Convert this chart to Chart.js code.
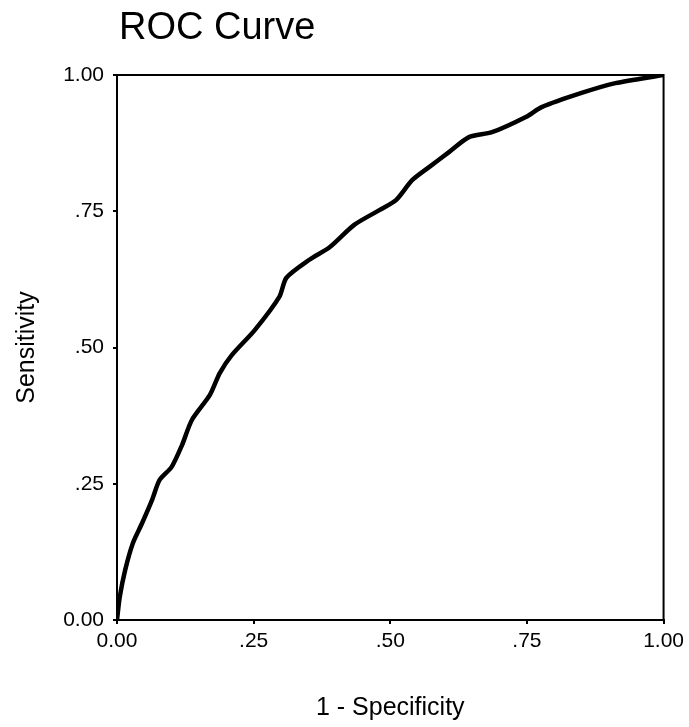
<!DOCTYPE html>
<html>
<head>
<meta charset="utf-8">
<script src="https://cdn.jsdelivr.net/npm/chart.js@4.4.0/dist/chart.umd.min.js"></script>
<style>
  html, body { margin: 0; padding: 0; background: #fff; }
  #wrap { width: 689px; height: 727px; }
</style>
</head>
<body>
<div id="wrap"><canvas id="roc"></canvas></div>
<script>
// ROC points: 1 - specificity and sensitivity
const fpr = [0, 0.005, 0.015, 0.029, 0.046, 0.064, 0.078, 0.100, 0.119, 0.137, 0.170, 0.188, 0.210, 0.252,
  0.297, 0.310, 0.352, 0.389, 0.434, 0.480, 0.511, 0.540, 0.571, 0.608, 0.644, 0.686, 0.748, 0.777,
  0.850, 0.912, 1.0];
const tpr = [0, 0.042, 0.092, 0.141, 0.178, 0.220, 0.257, 0.281, 0.321, 0.367, 0.413, 0.453, 0.486, 0.532,
  0.593, 0.628, 0.661, 0.684, 0.725, 0.752, 0.771, 0.807, 0.831, 0.859, 0.886, 0.895, 0.923, 0.941,
  0.967, 0.985, 1.0];

const tickValues = [0, 0.25, 0.5, 0.75, 1];
const tickLabels = ['0.00', '.25', '.50', '.75', '1.00'];

const font = "'Liberation Sans', Arial, sans-serif";

// box round the plot + the title in the top left
const frame = {
  id: 'frame',
  afterDraw(chart) {
    const { ctx, chartArea: a } = chart;
    ctx.save();
    ctx.strokeStyle = '#000';
    ctx.lineWidth = 2;
    ctx.strokeRect(a.left, a.top, a.right - a.left, a.bottom - a.top);
    ctx.fillStyle = '#000';
    ctx.font = '38px ' + font;
    ctx.textBaseline = 'alphabetic';
    ctx.fillText('ROC Curve', 119, 39);
    ctx.restore();
  }
};

const tickOpts = {
  color: '#000',
  font: { family: font, size: 21 },
  autoSkip: false,
  maxRotation: 0,
  callback: (v) => {
    const i = tickValues.findIndex(t => Math.abs(t - v) < 1e-6);
    return i >= 0 ? tickLabels[i] : '';
  }
};

new Chart(document.getElementById('roc'), {
  type: 'line',
  data: {
    datasets: [{
      data: fpr.map((x, i) => ({ x, y: tpr[i] })),
      borderColor: '#000',
      borderWidth: 4.5,
      pointRadius: 0,
      tension: 0.25,
      fill: false
    }]
  },
  options: {
    responsive: true,
    maintainAspectRatio: false,
    animation: false,
    layout: { padding: { top: 75, right: 24, left: 0, bottom: 0 } },
    plugins: { legend: { display: false }, tooltip: { enabled: false } },
    scales: {
      x: {
        type: 'linear',
        min: 0, max: 1,
        afterBuildTicks: (s) => { s.ticks = tickValues.map(v => ({ value: v })); },
        afterFit: (s) => { s.height = 107; },
        ticks: { ...tickOpts, padding: 5 },
        grid: { drawOnChartArea: false, drawTicks: true, tickLength: 4, color: '#000', lineWidth: 2 },
        border: { display: true, color: '#000', width: 2 },
        title: { display: true, text: '1 - Specificity', color: '#000',
                 font: { family: font, size: 25 }, padding: { top: 0, bottom: 4 } }
      },
      y: {
        min: 0, max: 1,
        afterBuildTicks: (s) => { s.ticks = tickValues.map(v => ({ value: v })); },
        afterFit: (s) => { s.width = 117; },
        ticks: { ...tickOpts, padding: 9 },
        grid: { drawOnChartArea: false, drawTicks: true, tickLength: 4, color: '#000', lineWidth: 2 },
        border: { display: true, color: '#000', width: 2 },
        title: { display: true, text: 'Sensitivity', color: '#000',
                 font: { family: font, size: 25 }, padding: { top: 12, bottom: 0 } }
      }
    }
  },
  plugins: [frame]
});
</script>
</body>
</html>
